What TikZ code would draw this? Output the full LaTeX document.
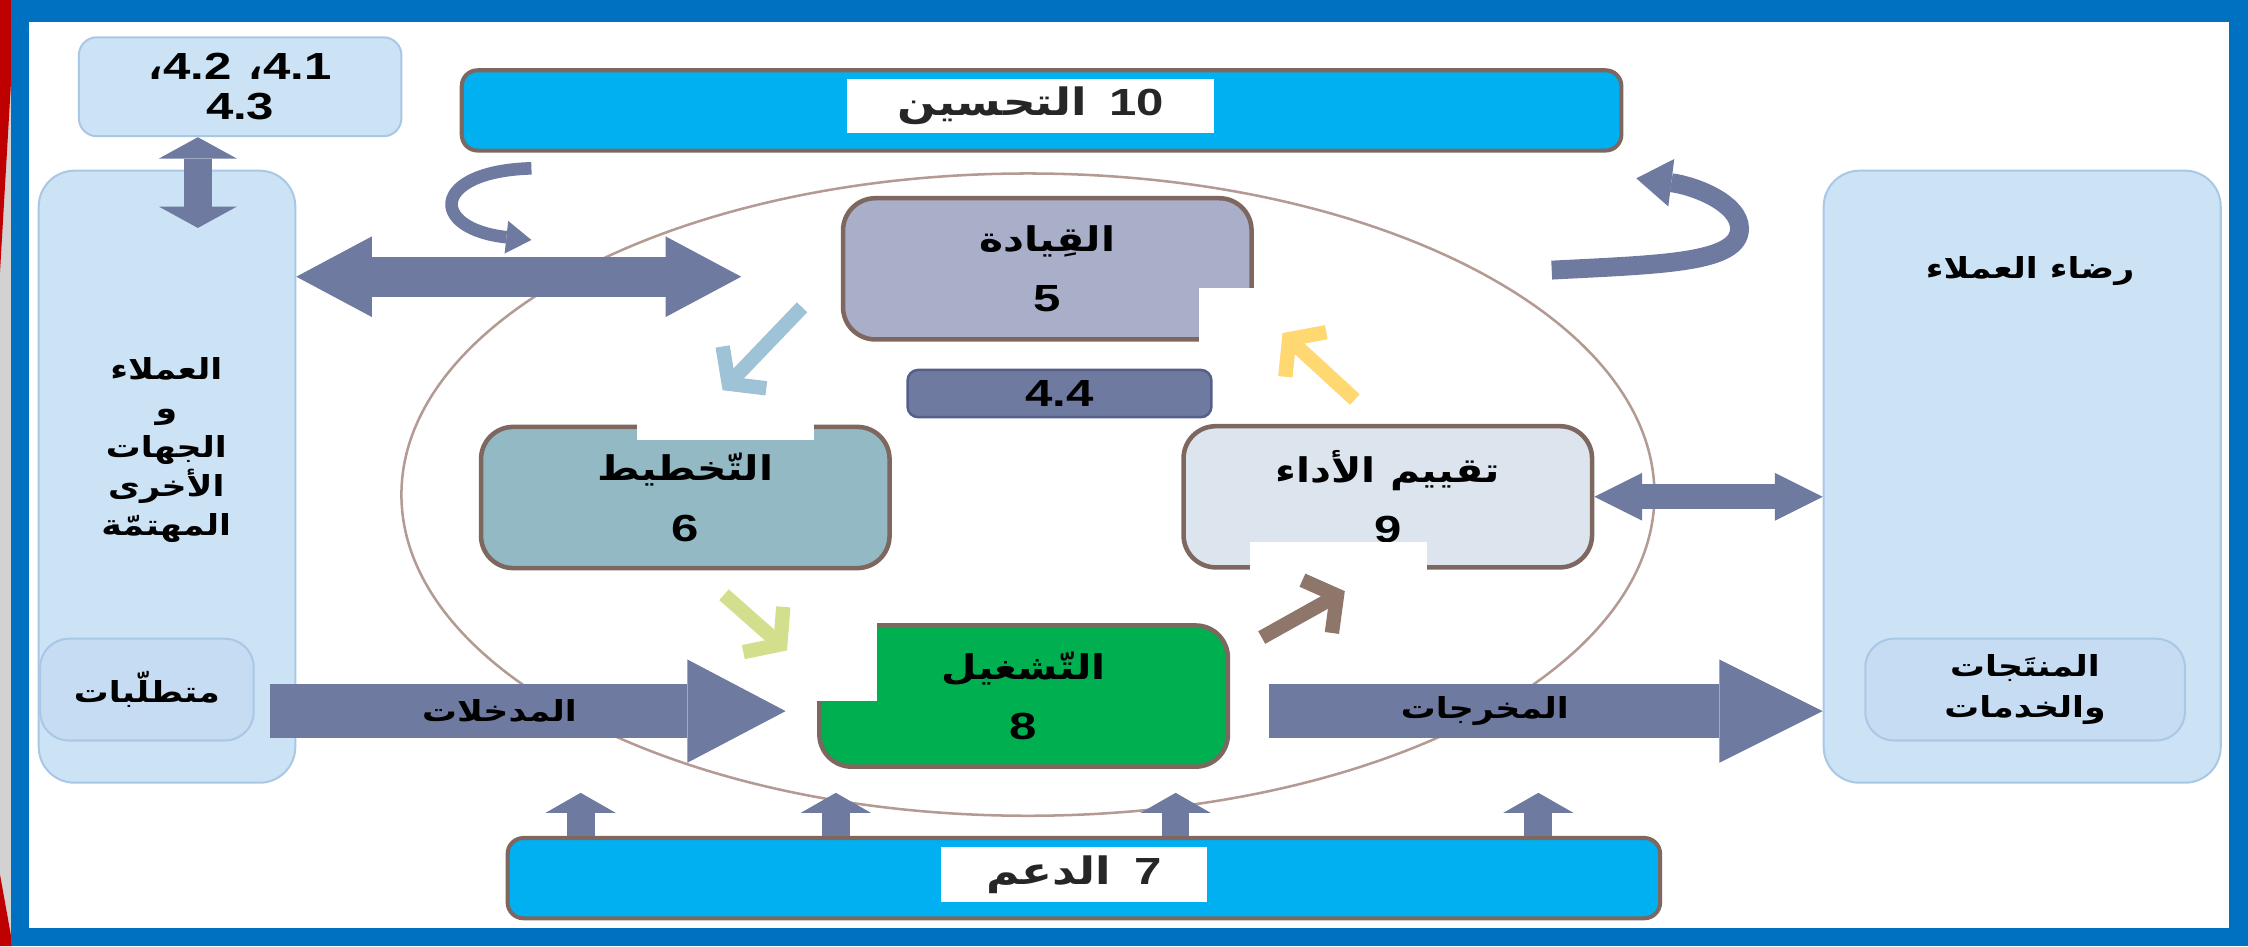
\documentclass[tikz,border=0pt]{standalone}
\usepackage{fontspec}
\setmainfont{Liberation Sans}[FakeStretch=1.3]
\newfontfamily\arabicfont[Script=Arabic, FakeStretch=1.2]{DejaVu Sans}
\newfontfamily\commafont{DejaVu Sans}
\TeXXeTstate=1
\usetikzlibrary{arrows.meta}

\definecolor{framebl}{HTML}{0070C0}
\definecolor{paleblue}{HTML}{CCE2F5}
\definecolor{paleedge}{HTML}{A9C8E6}
\definecolor{innerblue}{HTML}{C6DCF2}
\definecolor{barcyan}{HTML}{00B0F0}
\definecolor{boxedge}{HTML}{7D675F}
\definecolor{leadfill}{HTML}{A9AFC9}
\definecolor{planfill}{HTML}{93BAC4}
\definecolor{perffill}{HTML}{DCE5EE}
\definecolor{operfill}{HTML}{00B050}
\definecolor{slate}{HTML}{6F7AA0}
\definecolor{slateedge}{HTML}{55608A}
\definecolor{ringc}{HTML}{B39A92}
\definecolor{arrblue}{HTML}{9EC2D6}
\definecolor{arrlime}{HTML}{D4DF8E}
\definecolor{arrbrown}{HTML}{8E766B}
\definecolor{arryellow}{HTML}{FFD872}

\newcommand{\artext}[1]{{\arabicfont\bfseries\beginR #1\endR}}
\newcommand{\boxtitle}[1]{{\fontsize{13.5}{24}\selectfont\artext{#1}}}
\newcommand{\arcomma}{\hbox{\commafont\bfseries ،}}

\tikzset{
  colbox/.style={draw=paleedge, fill=paleblue, line width=0.8pt, rounded corners=0.5cm},
  inbox/.style={draw=paleedge, fill=innerblue, line width=0.8pt, rounded corners=0.4cm,
    minimum height=1.42cm, align=center, font=\fontsize{11.5}{16}\selectfont},
  coltext/.style={align=center, font=\fontsize{11.5}{15.5}\selectfont},
  barbox/.style={draw=boxedge, fill=barcyan, line width=1.6pt, rounded corners=0.22cm,
    minimum height=1.12cm},
  barlbl/.style={fill=white, minimum height=0.76cm, font=\fontsize{15}{16}\selectfont\bfseries,
    text=black!85},
  procbox/.style={draw=boxedge, line width=1.8pt, rounded corners=0.45cm, minimum width=5.7cm,
    minimum height=1.97cm, align=center, inner sep=0pt, font=\fontsize{15}{24}\selectfont\bfseries},
  fatarrow/.style n args={3}{slate, line width=#1,
    arrows={-Triangle[length=#2, width=#3, line width=0pt]}},
  fatboth/.style n args={3}{slate, line width=#1,
    arrows={Triangle[length=#2, width=#3, line width=0pt]-Triangle[length=#2, width=#3, line width=0pt]}},
  chev/.style={line width=5.7pt, -{Straight Barb[length=9pt, width=24pt]}},
}

\begin{document}
\begin{tikzpicture}[x=0.02cm, y=-0.02cm]
    \useasboundingbox (0,0) rectangle (1568,660);

    % Slide edge and frame
    \fill[gray!35] (0,0) rectangle (8,660);
    \fill[red!75!black] (0,0) -- (11,0) -- (0,190) -- cycle;
    \fill[red!75!black] (0,610) -- (9,660) -- (0,660) -- cycle;
    \fill[framebl] (8,0) rectangle (1568,660);
    \fill[white] (20,15) rectangle (1555,647);

    % Customers (left) and satisfaction (right)
    \node[colbox, minimum width=3.58cm, minimum height=8.54cm] (leftcol) at (116.5,332.5) {};
    \node[colbox, minimum width=5.54cm, minimum height=8.54cm] (rightcol) at (1410.5,332.5) {};
    \node[inbox, minimum width=2.98cm] (needs) at (102.5,481) {\artext{متطلّبات}};
    \node[inbox, minimum width=4.46cm] (prods) at (1412.5,481) {\artext{المنتَجات}\\\artext{والخدمات}};
    \node[coltext] (custlbl) at (116,314) {\artext{العملاء}\\\artext{و}\\\artext{الجهات}\\\artext{الأخرى}\\\artext{المهتمّة}};
    \node[coltext] (satlbl) at (1416,189) {\artext{رضاء العملاء}};

    % Context clauses
    \node[colbox, rounded corners=0.25cm, minimum width=4.5cm, minimum height=1.38cm, align=center,
        font=\fontsize{15}{16}\selectfont\bfseries] (clauses) at (167.5,60.5)
        {\arcomma\hbox{4.2}\hspace{7pt}\arcomma\hbox{4.1}\\4.3};

    % Ring
    \draw[ringc, line width=1pt] (717,345) ellipse [x radius=437, y radius=224];

    % Improvement and support bars
    \node[barbox, minimum width=16.18cm] (impr) at (726.5,77) {};
    \node[barlbl, minimum width=5.12cm] (imprlbl) at (719,74) {\artext{التحسين}\hspace{9pt}10};
    \node[barbox, minimum width=16.08cm] (supp) at (756,612.5) {};
    \node[barlbl, minimum width=3.72cm] (supplbl) at (749,610) {\artext{الدعم}\hspace{9pt}7};

    % PDCA boxes (white patches cut the corners)
    \node[procbox, fill=leadfill] (lead) at (730.5,187.5) {\boxtitle{القِيادة}\\5};
    \fill[white] (836,201) rectangle (877,241);
    \node[procbox, fill=planfill] (plan) at (478,347) {\boxtitle{التّخطيط}\\6};
    \fill[white] (444,293) rectangle (568,307);
    \node[procbox, fill=perffill] (perf) at (968,346.5) {\boxtitle{تقييم الأداء}\\9};
    \fill[white] (872,378) rectangle (995,400);
    \node[procbox, fill=operfill] (oper) at (714,485.5) {\boxtitle{التّشغيل}\\8};
    \fill[white] (566,431) rectangle (612,489);
    \node[draw=slateedge, fill=slate, rounded corners=0.15cm, minimum width=4.24cm, minimum height=0.66cm,
        line width=1pt, font=\fontsize{15}{15}\selectfont\bfseries] (std44) at (739,274.5) {4.4};

    % Clauses <-> customers
    \coordinate (vtip) at (138,159);
    \draw[fatboth={11pt}{8.5pt}{31pt}] (clauses.south -| vtip) -- (vtip);

    % Customers <-> leadership
    \coordinate (bigtip) at (517,193);
    \draw[fatboth={16pt}{30pt}{32pt}] (leftcol.east |- bigtip) -- (bigtip);

    % Evaluation <-> satisfaction
    \draw[fatboth={10pt}{19pt}{19pt}] (perf.east) -- (perf.east -| rightcol.west);

    % Inputs and outputs
    \coordinate (inA) at (188,496);
    \draw[fatarrow={21.5pt}{39pt}{41pt}, shorten >=0.44cm] (inA) -- (inA -| oper.west)
        node[pos=0.42, text=black, font=\fontsize{11.5}{14}\selectfont] (inlbl) {\artext{المدخلات}};
    \coordinate (outA) at (885,496);
    \draw[fatarrow={21.5pt}{41pt}{41pt}] (outA) -- (outA -| rightcol.west)
        node[pos=0.39, text=black, font=\fontsize{11.5}{14}\selectfont] (outlbl) {\artext{المخرجات}};

    % Support arrows
    \foreach \x in {405,583,820,1073} {
        \coordinate (up\x) at (\x,553);
        \draw[fatarrow={11pt}{8pt}{28pt}] (supp.north -| up\x) -- (up\x);
    }

    % Cycle arrows
    \draw[arrblue, chev] ([shift={(-27,-24)}]lead.south west) -- ([shift={(26,-24)}]plan.north);
    \draw[arrlime, chev] ([shift={(27,17)}]plan.south) -- ([shift={(-21,19)}]oper.north west);
    \draw[arrbrown, chev] ([shift={(22,10)}]oper.north east) -- ([shift={(-30,15)}]perf.south);
    \draw[arryellow, chev] ([shift={(-23,-17)}]perf.north) -- ([shift={(20,-6)}]lead.south east);

    % Improvement loop arrows
    \draw[slate, line width=5pt, -{Triangle[length=10pt, width=13pt, line width=0pt]}]
        ([shift={(50,11)}]impr.south west) .. controls +(-70,2) and +(-72,-8) .. ([shift={(50,61)}]impr.south west);
    \draw[slate, line width=7.5pt, -{Triangle[length=14pt, width=19pt, line width=0pt]}]
        ([shift={(-50,82)}]impr.south east) .. controls +(78,-4) and +(0,24) .. ([shift={(81,53)}]impr.south east)
        .. controls +(0,-18) and +(40,5) .. ([shift={(9,18)}]impr.south east);
\end{tikzpicture}
\end{document}
